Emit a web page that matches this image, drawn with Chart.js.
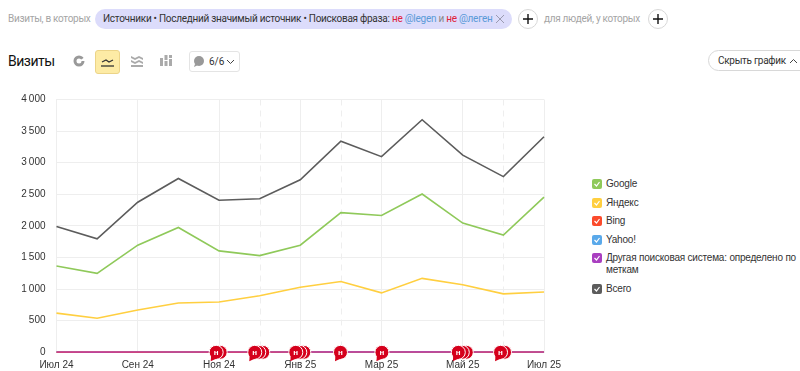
<!DOCTYPE html>
<html lang="ru">
<head>
<meta charset="utf-8">
<title>Визиты</title>
<script src="https://cdn.jsdelivr.net/npm/chart.js@4/dist/chart.umd.min.js"></script>
<style>
  html, body { margin: 0; padding: 0; background: #fff; }
  body { width: 800px; height: 371px; position: relative; overflow: hidden; font-family: Roboto, "Liberation Sans", sans-serif; color: #222; }
  .abs { position: absolute; white-space: nowrap; }
  .grey { color: #a5a5a5; font-size: 10px; letter-spacing: -0.3px; line-height: 14px; }
  #chip { left: 95px; top: 9px; width: 417px; height: 20px; line-height: 20px; background: #dcdcfb; border-radius: 10px; font-size: 10px; letter-spacing: -0.27px; box-sizing: border-box; padding-left: 8px; color: #333; }
  #chip .no { color: #e0203a; }
  #chip .at { color: #5a9ad8; }
  #chip svg { position: absolute; right: 7px; top: 5px; }
  .plus { width: 20px; height: 20px; border: 1px solid #d8d8d8; border-radius: 50%; box-sizing: border-box; text-align: center; }
  .plus svg { display: block; margin: 4px auto 0; }
  #title { left: 8px; top: 53px; font-size: 14px; letter-spacing: -0.5px; color: #111; }
  #active { left: 95px; top: 50px; width: 25px; height: 24px; background: #fdeba5; border: 1px solid #ecd488; border-radius: 3px; box-sizing: border-box; }
  #notes { left: 189px; top: 51px; width: 51px; height: 21px; border: 1px solid #e4e4e4; border-radius: 3px; box-sizing: border-box; font-size: 10px; line-height: 19px; padding-left: 19px; color: #333; }
  #hide { left: 708px; top: 50px; width: 110px; height: 21px; border: 1px solid #d8d8d8; border-radius: 11px; box-sizing: border-box; font-size: 10px; letter-spacing: -0.3px; line-height: 19px; padding-left: 9px; color: #333; }
  #hide svg { margin-left: 1px; }
  #chartBox { position: absolute; left: 0; top: 90px; width: 570px; height: 281px; }
  #legend { position: absolute; left: 592px; top: 178px; width: 208px; font: 10px "Liberation Sans", sans-serif; letter-spacing: -0.2px; color: #333; }
  .item { position: relative; padding-left: 14px; line-height: 12px; margin-bottom: 6.5px; }
  .box { position: absolute; left: 0; top: 1px; width: 10px; height: 10px; border-radius: 2px; }
  .box svg { display: block; }
</style>
</head>
<body>
<div class="abs grey" style="left:8px;top:12px">Визиты, в которых</div>
<div class="abs" id="chip">Источники • Последний значимый источник • Поисковая фраза: <span class="no">не</span> <span class="at">@legen</span> <span style="color:#888">и</span> <span class="no">не</span> <span class="at">@леген</span>
  <svg width="10" height="10"><path d="M1 1L9 9M9 1L1 9" stroke="#9a9ab0" fill="none"/></svg></div>
<div class="abs plus" style="left:518px;top:9px"><svg width="10" height="10"><path d="M5 0V10M0 5H10" stroke="#111" stroke-width="1.4"/></svg></div>
<div class="abs grey" style="left:544px;top:12px">для людей, у которых</div>
<div class="abs plus" style="left:648px;top:9px"><svg width="10" height="10"><path d="M5 0V10M0 5H10" stroke="#111" stroke-width="1.4"/></svg></div>

<div class="abs" id="title">Визиты</div>
<svg class="abs" style="left:73px;top:55px" width="12" height="12"><circle cx="6" cy="6" r="4" fill="none" stroke="#999" stroke-width="3"/><path d="M6 6L12 2V6Z" fill="#fff"/></svg>
<div class="abs" id="active"><svg style="display:block;margin:6px auto 0" width="13" height="11"><path d="M1 5L5 3L8 5L12 3" stroke="#333" fill="none" stroke-width="1.3"/><path d="M0 9H13" stroke="#333" stroke-width="1.3"/></svg></div>
<svg class="abs" style="left:131px;top:55px" width="12" height="12"><path d="M0 1L4 3L8 1L12 3V5L8 3L4 5L0 3ZM0 5L4 7L8 5L12 7V9L8 7L4 9L0 7ZM0 10H12V12H0Z" fill="#aaa"/></svg>
<svg class="abs" style="left:160px;top:55px" width="12" height="12"><path d="M0 3H3V11H0ZM4.5 0H7.5V5H4.5ZM4.5 6H7.5V11H4.5ZM9 0H12V3H9ZM9 4H12V11H9Z" fill="#aaa"/></svg>
<div class="abs" id="notes"><svg style="position:absolute;left:2px;top:3px" width="13" height="13"><circle cx="7" cy="6" r="5" fill="#999"/><path d="M3 9L2 12L6 10Z" fill="#999"/></svg>6/6<svg style="position:absolute;right:4px;top:7px" width="9" height="6"><path d="M1 1L4.5 4.5L8 1" stroke="#444" fill="none"/></svg></div>
<div class="abs" id="hide">Скрыть график <svg width="9" height="6"><path d="M1 5L4.5 1.5L8 5" stroke="#444" fill="none"/></svg></div>

<div id="chartBox"><canvas id="myChart" width="570" height="281"></canvas></div>
<div id="legend"></div>

<script>
const months = ["Июл 24", "Авг 24", "Сен 24", "Окт 24", "Ноя 24", "Дек 24", "Янв 25", "Фев 25", "Мар 25", "Апр 25", "Май 25", "Июн 25", "Июл 25"];

const google = [1365, 1250, 1695, 1975, 1605, 1530, 1695, 2210, 2165, 2505, 2045, 1855, 2455];
const yandex = [620, 540, 670, 780, 795, 895, 1030, 1120, 940, 1170, 1070, 925, 955];
const bing = [3, 2, 3, 4, 3, 3, 4, 5, 4, 5, 4, 3, 4];
const yahoo = [2, 1, 2, 2, 2, 2, 2, 3, 2, 3, 2, 2, 3];
const other = [4, 3, 4, 5, 4, 4, 5, 6, 5, 6, 5, 4, 5];
const total = [1990, 1795, 2375, 2750, 2405, 2430, 2730, 3340, 3095, 3680, 3120, 2780, 3410];

// notes on the timeline: position in months from Jul 24, and how many are stacked
const noteAt = [3.93, 4.88, 5.89, 6.99, 8.01, 9.89, 10.93];
const noteCount = [2, 3, 3, 1, 1, 3, 2];
const dashedMonths = [5, 7, 11];

const seriesNames = ["Google", "Яндекс", "Bing", "Yahoo!", "Другая поисковая система: определено по меткам", "Всего"];
const seriesData = [google, yandex, bing, yahoo, other, total];
const seriesColors = ["#8fc95a", "#ffcf40", "#fb4b2c", "#5aa9ea", "#a93fc0", "#5c5c5c"];
const lineColors = ["#8fc95a", "#ffcf40", "#fb4b2c", "#5aa9ea", "#a93fc0bb", "#5c5c5c"];
const drawOrder = [1, 2, 4, 5, 0, 3]; // lower is drawn on top

const gridColor = "#eeeeee";

const legend = document.getElementById("legend");
seriesNames.forEach((name, i) => {
  const row = document.createElement("div");
  row.className = "item";
  row.innerHTML = '<span class="box" style="background:' + seriesColors[i] + '"><svg width="10" height="10"><path d="M2.5 5L4.5 7L7.5 3" stroke="#fff" stroke-width="1.2" fill="none"/></svg></span>' + name;
  legend.appendChild(row);
});

const dashedGrid = {
  id: "dashedGrid",
  beforeDatasetsDraw(chart) {
    const { ctx, chartArea, scales } = chart;
    ctx.save();
    ctx.strokeStyle = gridColor;
    ctx.lineWidth = 1;
    ctx.setLineDash([6, 5]);
    dashedMonths.forEach((m) => {
      const x = Math.round(scales.x.getPixelForValue(m)) + 0.5;
      ctx.beginPath();
      ctx.moveTo(x, chartArea.top);
      ctx.lineTo(x, chartArea.bottom);
      ctx.stroke();
    });
    ctx.restore();
  },
};

const noteMarkers = {
  id: "noteMarkers",
  afterDatasetsDraw(chart) {
    const { ctx, scales } = chart;
    const y = scales.y.getPixelForValue(0);
    const red = "#d5001c";
    ctx.save();
    noteAt.forEach((at, n) => {
      const x = scales.x.getPixelForValue(at);
      for (let k = noteCount[n] - 1; k >= 0; k--) {
        ctx.beginPath();
        ctx.arc(x + k * 4, y, 7, 0, Math.PI * 2);
        ctx.fillStyle = red;
        ctx.fill();
        ctx.strokeStyle = "#fff";
        ctx.lineWidth = 1;
        ctx.stroke();
      }
      ctx.beginPath();
      ctx.moveTo(x - 5, y + 3);
      ctx.lineTo(x - 5.5, y + 9);
      ctx.lineTo(x + 1, y + 6);
      ctx.closePath();
      ctx.fillStyle = red;
      ctx.fill();
      ctx.fillStyle = "#fff";
      ctx.font = 'bold 8px "Liberation Sans"';
      ctx.textAlign = "center";
      ctx.textBaseline = "middle";
      ctx.fillText("н", x, y);
    });
    ctx.restore();
  },
};

const myChart = new Chart(document.getElementById("myChart"), {
  type: "line",
  plugins: [dashedGrid, noteMarkers],
  data: {
    datasets: seriesNames.map((name, i) => ({
      label: name,
      data: seriesData[i].map((v, m) => ({ x: m, y: v })),
      borderColor: lineColors[i],
      borderWidth: 1.6,
      pointRadius: 0,
      tension: 0,
      clip: false,
      order: drawOrder[i],
    })),
  },
  options: {
    responsive: false,
    animation: false,
    layout: { padding: { top: 9.5, right: 26, left: 0, bottom: 0 } },
    plugins: { legend: { display: false }, tooltip: { enabled: false } },
    scales: {
      x: {
        type: "linear",
        min: 0,
        max: 12,
        afterFit(scale) { scale.height = 18.7; },
        grid: { color: gridColor, drawTicks: false },
        border: { color: gridColor },
        ticks: {
          stepSize: 2,
          autoSkip: false,
          maxRotation: 0,
          padding: 7,
          color: "#333",
          font: { family: "Liberation Sans", size: 10 },
          callback: (v) => months[v],
        },
      },
      y: {
        min: 0,
        max: 4000,
        afterFit(scale) { scale.width = 56.5; },
        grid: { color: gridColor, tickColor: "transparent", tickLength: 8 },
        border: { color: gridColor },
        ticks: {
          stepSize: 500,
          padding: 3,
          color: "#333",
          font: { family: "Liberation Sans", size: 10 },
          callback: (v) => String(v).replace(/\B(?=(\d{3})+$)/, "\u202f"),
        },
      },
    },
  },
});
</script>
</body>
</html>
